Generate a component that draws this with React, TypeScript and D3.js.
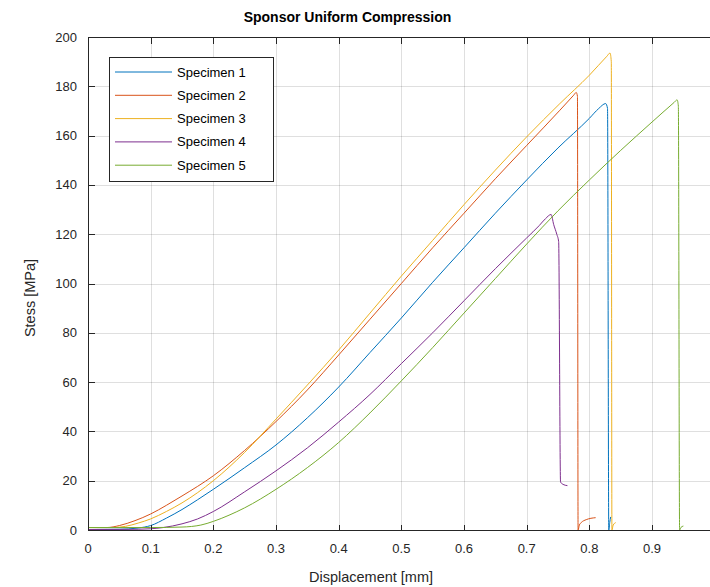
import React, { useRef, useEffect } from 'react';
import * as d3 from 'd3';

const W = 710;
const H = 587;

const SPECIMENS = ['Specimen 1', 'Specimen 2', 'Specimen 3', 'Specimen 4', 'Specimen 5'];
const COLORS = ['#0072BD', '#D95319', '#EDB120', '#7E2F8E', '#77AC30'];

// displacement [mm] / stress [MPa]
const DISP_1 = [0, 0.05, 0.08, 0.1, 0.125, 0.15, 0.175, 0.2, 0.25, 0.3, 0.35, 0.4, 0.45, 0.5, 0.55, 0.6, 0.65, 0.7, 0.75, 0.8, 0.815, 0.826, 0.829, 0.831, 0.8325, 0.834];
const STRESS_1 = [0.2, 0.3, 0.8, 1.8, 4.8, 8.3, 12.3, 16.5, 25.3, 34.5, 45.5, 58, 72, 86, 100.5, 114.5, 128.5, 142, 155, 167, 171, 173, 171, 0, 3, 5.3];

const DISP_2 = [0, 0.03, 0.05, 0.075, 0.1, 0.125, 0.15, 0.2, 0.25, 0.3, 0.35, 0.4, 0.45, 0.5, 0.55, 0.6, 0.65, 0.7, 0.753, 0.775, 0.779, 0.781, 0.782, 0.784, 0.787, 0.795, 0.81];
const STRESS_2 = [1, 1, 1.8, 3.8, 6.5, 10, 13.8, 22, 32.3, 44, 56.8, 71, 85.5, 100, 114.5, 128.5, 142.5, 156, 170.3, 176.4, 177.5, 176, 0, 2, 3, 4.2, 5];

const DISP_3 = [0, 0.04, 0.06, 0.08, 0.1, 0.125, 0.15, 0.2, 0.25, 0.3, 0.35, 0.4, 0.45, 0.5, 0.55, 0.6, 0.65, 0.7, 0.753, 0.8, 0.828, 0.833, 0.835, 0.836, 0.838, 0.842];
const STRESS_3 = [1, 1, 1.5, 2.8, 4.5, 7.5, 11, 20, 31.5, 45, 58.8, 73, 88, 103, 117.5, 132, 146, 159.5, 173, 184.5, 192.2, 193.5, 190, 0, 2, 3];

const DISP_4 = [0, 0.08, 0.1, 0.12, 0.15, 0.175, 0.2, 0.25, 0.3, 0.35, 0.4, 0.45, 0.5, 0.55, 0.6, 0.65, 0.7, 0.72, 0.73, 0.739, 0.743, 0.748, 0.751, 0.754, 0.758, 0.765];
const STRESS_4 = [0.2, 0.3, 0.5, 1, 2.5, 4.5, 7.5, 15.5, 24, 33.3, 43.8, 55, 67.5, 80, 93, 106, 118.5, 123.5, 126.3, 128, 124, 120, 117, 19.5, 18.5, 18];

const DISP_5 = [0, 0.1, 0.15, 0.18, 0.2, 0.225, 0.25, 0.3, 0.35, 0.4, 0.45, 0.5, 0.55, 0.6, 0.65, 0.7, 0.75, 0.8, 0.85, 0.9, 0.935, 0.94, 0.942, 0.944, 0.946, 0.95];
const STRESS_5 = [1, 1, 1.2, 2, 3.5, 6, 9, 16.5, 25.3, 35.5, 47.5, 60.5, 74, 88, 102, 116, 129.5, 142, 154, 165.5, 173.4, 174.5, 172, 0, 1, 1.6];

const DISP = [DISP_1, DISP_2, DISP_3, DISP_4, DISP_5];
const STRESS = [STRESS_1, STRESS_2, STRESS_3, STRESS_4, STRESS_5];

const X_TICKS = [0, 0.1, 0.2, 0.3, 0.4, 0.5, 0.6, 0.7, 0.8, 0.9, 1];
const Y_TICKS = [0, 20, 40, 60, 80, 100, 120, 140, 160, 180, 200];

const FONT = '"Liberation Sans", Arial, Helvetica, sans-serif';
const INK = '#262626';

export default function App() {
  const svgRef = useRef<SVGSVGElement | null>(null);

  useEffect(() => {
    if (!svgRef.current) return;
    const svg = d3.select(svgRef.current);
    svg.selectAll('*').remove();

    // axes box (right edge falls just outside the window)
    const left = 88, right = 714.7, top = 37, bottom = 530;
    const x = d3.scaleLinear().domain([0, 1]).range([left, right]);
    const y = d3.scaleLinear().domain([0, 200]).range([bottom, top]);

    svg.append('rect').attr('width', W).attr('height', H).attr('fill', '#fff');

    // grid
    const grid = svg.append('g')
      .attr('stroke', INK).attr('stroke-opacity', 0.15).attr('stroke-width', 1)
      .attr('shape-rendering', 'crispEdges');
    X_TICKS.forEach(t => {
      const px = Math.round(x(t)) + 0.5;
      grid.append('line').attr('x1', px).attr('x2', px).attr('y1', top).attr('y2', bottom);
    });
    Y_TICKS.forEach(t => {
      const py = Math.round(y(t)) + 0.5;
      grid.append('line').attr('x1', left).attr('x2', right).attr('y1', py).attr('y2', py);
    });

    // data lines, clipped to the axes
    svg.append('clipPath').attr('id', 'plotclip')
      .append('rect').attr('x', left).attr('y', top).attr('width', right - left).attr('height', bottom - top);

    const lines = svg.append('g').attr('clip-path', 'url(#plotclip)');
    SPECIMENS.forEach((name, k) => {
      const xs = DISP[k];
      const ys = STRESS[k];
      const gen = d3.line<number>()
        .x(i => x(xs[i]))
        .y(i => y(ys[i]))
        .curve(d3.curveMonotoneX);
      lines.append('path')
        .attr('d', gen(d3.range(xs.length)))
        .attr('fill', 'none')
        .attr('stroke', COLORS[k])
        .attr('stroke-width', 1)
        .attr('stroke-linejoin', 'round');
    });

    // box + inward ticks on all sides
    const axis = svg.append('g').attr('stroke', INK).attr('stroke-width', 1)
      .attr('shape-rendering', 'crispEdges').attr('fill', 'none');
    const L = Math.round(left) + 0.5, R = Math.round(right) + 0.5;
    const T = Math.round(top) + 0.5, B = Math.round(bottom) + 0.5;
    axis.append('rect').attr('x', L).attr('y', T).attr('width', R - L).attr('height', B - T);
    const tickLen = 6;
    X_TICKS.forEach(t => {
      const px = Math.round(x(t)) + 0.5;
      axis.append('line').attr('x1', px).attr('x2', px).attr('y1', B).attr('y2', B - tickLen);
      axis.append('line').attr('x1', px).attr('x2', px).attr('y1', T).attr('y2', T + tickLen);
    });
    Y_TICKS.forEach(t => {
      const py = Math.round(y(t)) + 0.5;
      axis.append('line').attr('x1', L).attr('x2', L + tickLen).attr('y1', py).attr('y2', py);
      axis.append('line').attr('x1', R).attr('x2', R - tickLen).attr('y1', py).attr('y2', py);
    });

    // tick labels
    const labels = svg.append('g').attr('font-family', FONT).attr('font-size', 13).attr('fill', INK);
    X_TICKS.forEach(t => {
      labels.append('text')
        .attr('x', x(t)).attr('y', 552.5)
        .attr('text-anchor', 'middle')
        .text(d3.format('~g')(t));
    });
    Y_TICKS.forEach(t => {
      labels.append('text')
        .attr('x', left - 11).attr('y', y(t))
        .attr('text-anchor', 'end')
        .attr('dominant-baseline', 'central')
        .text(t);
    });

    // title and axis labels
    svg.append('text')
      .attr('x', 347.5).attr('y', 22)
      .attr('text-anchor', 'middle')
      .attr('font-family', FONT).attr('font-size', 14).attr('font-weight', 'bold')
      .attr('fill', '#000')
      .text('Sponsor Uniform Compression');
    svg.append('text')
      .attr('x', 371).attr('y', 582)
      .attr('text-anchor', 'middle')
      .attr('font-family', FONT).attr('font-size', 14.5)
      .attr('fill', INK)
      .text('Displacement [mm]');
    svg.append('text')
      .attr('transform', 'translate(35,298) rotate(-90)')
      .attr('text-anchor', 'middle')
      .attr('font-family', FONT).attr('font-size', 14.5)
      .attr('fill', INK)
      .text('Stess [MPa]');

    // legend
    const lg = svg.append('g');
    lg.append('rect')
      .attr('x', 109.5).attr('y', 57.5).attr('width', 164).attr('height', 124)
      .attr('fill', '#fff').attr('stroke', INK).attr('stroke-width', 1)
      .attr('shape-rendering', 'crispEdges');
    SPECIMENS.forEach((name, k) => {
      const ry = 72 + k * 23.3;
      lg.append('line')
        .attr('x1', 115).attr('x2', 172).attr('y1', ry).attr('y2', ry)
        .attr('stroke', COLORS[k]).attr('stroke-width', 1);
      lg.append('text')
        .attr('x', 177).attr('y', ry)
        .attr('dominant-baseline', 'central')
        .attr('font-family', FONT).attr('font-size', 13)
        .attr('fill', '#000')
        .text(name);
    });
  }, []);

  return (
    <div style={{ position: 'fixed', left: 0, top: 0, width: W, height: H, overflow: 'hidden' }}>
      <svg ref={svgRef} width={W} height={H} style={{ display: 'block' }} />
    </div>
  );
}
